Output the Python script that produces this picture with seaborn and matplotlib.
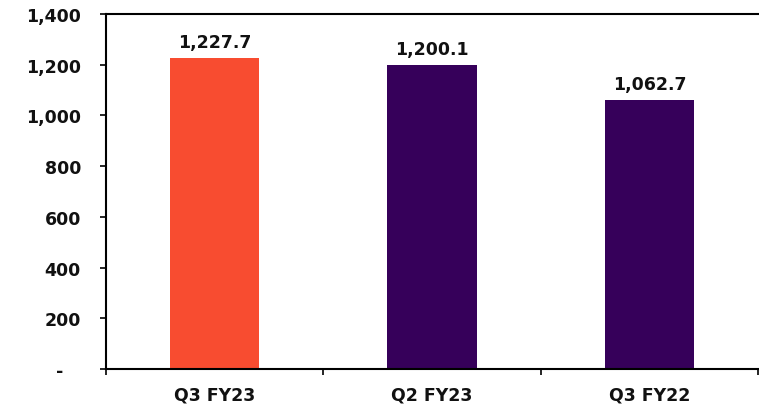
import matplotlib
matplotlib.use("Agg")
import matplotlib.pyplot as plt
import seaborn as sns
import pandas as pd
from matplotlib.ticker import FixedLocator

categories = ["Q3 FY23", "Q2 FY23", "Q3 FY22"]
values = [1227.7, 1200.1, 1062.7]
bar_colors = ["#F84C30", "#36005A", "#36005A"]
yticks = [0, 200, 400, 600, 800, 1000, 1200, 1400]

sns.set_theme(style="white")
plt.rcParams['font.family'] = ['DejaVu Sans']

df = pd.DataFrame({"cat": categories, "val": values})
fig = plt.figure(figsize=(7.59, 4.10), dpi=100)
ax = fig.add_axes([106/759, 1-370/410, 652/759, 355/410])
sns.barplot(data=df, x="cat", y="val", hue="cat", palette=bar_colors,
            width=0.41, saturation=1, legend=False, linewidth=0, ax=ax)

ax.set_xlim(-0.5, 2.5)
ax.set_ylim(0, 1400)
ax.set_yticks(yticks)
ax.set_yticklabels(["-   "] + [f"{v:,}" for v in yticks[1:]], fontsize=12.5, fontweight="bold")
ax.set_xticks(range(len(categories)))
ax.set_xticklabels(categories, fontsize=12.5, fontweight="bold")
ax.xaxis.set_minor_locator(FixedLocator([-0.5, 0.5, 1.5, 2.5]))
ax.tick_params(axis="x", which="major", length=0, pad=12, colors="#111111")
ax.tick_params(axis="x", which="minor", length=4, width=1.2, direction="out", bottom=True, color="black")
ax.tick_params(axis="y", which="major", length=4, width=1.2, direction="out", left=True, pad=14)
ax.tick_params(axis="y", colors="black", labelcolor="#111111")
ax.set_xlabel("")
ax.set_ylabel("")

for s in ["left", "top", "bottom"]:
    ax.spines[s].set_visible(True)
    ax.spines[s].set_color("black")
    ax.spines[s].set_linewidth(1.5)
ax.spines["right"].set_visible(False)

for i, v in enumerate(values):
    ax.annotate(f"{v:,.1f}", (i, v), xytext=(0, 5), textcoords="offset points",
                ha="center", va="bottom", fontsize=12.5, fontweight="bold", color="#111111")

fig.savefig("out.png", dpi=100)
